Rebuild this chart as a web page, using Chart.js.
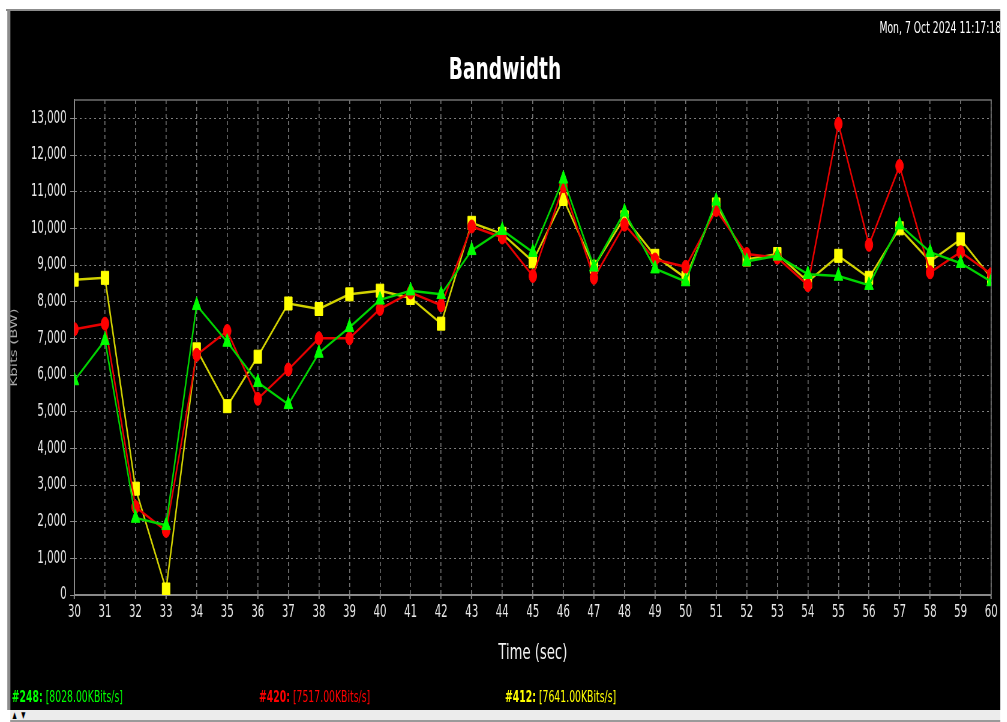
<!DOCTYPE html>
<html>
<head>
<meta charset="utf-8">
<title>Bandwidth</title>
<script src="https://cdn.jsdelivr.net/npm/chart.js@4.4.1/dist/chart.umd.min.js"></script>
<style>
  html, body { margin: 0; padding: 0; background: #fff; width: 1007px; height: 722px; overflow: hidden; }
  /* whole monitor view is laid out wide, then squeezed horizontally */
  #stage { position: absolute; left: 0; top: 0; width: 1678px; height: 722px;
           transform: scaleX(0.6); transform-origin: 0 0; font-family: "DejaVu Sans", sans-serif; }
  #edgeTop { position: absolute; left: 10px; top: 9px; width: 1657px; height: 2px; background: #8c8c8c; }
  #edgeLeft { position: absolute; left: 12px; top: 9px; width: 5px; height: 701px; background: #8c8c8c; }
  #panel { position: absolute; left: 16.7px; top: 11px; width: 1650px; height: 699px; background: #000; overflow: hidden; }
  #panel canvas { position: absolute; left: 0; top: 0; }
  #heading { position: absolute; left: 0; width: 1650px; top: 39px; line-height: 36px; text-align: center;
             color: #fff; font-weight: bold; font-size: 31px; }
  #stamp { position: absolute; right: -2px; top: 8px; line-height: 18px; color: #fff; font-size: 15.5px; white-space: nowrap; }
  .lg { position: absolute; top: 677px; line-height: 18px; font-size: 15.5px; white-space: nowrap; }
  .lg b { font-weight: bold; }
  #bar { position: absolute; left: 16.7px; top: 710px; width: 1650px; height: 10px; background: #ececec;
         border-bottom: 2px solid #9a9a9a; }
  #bar span { position: absolute; left: 4px; top: 1px; font-size: 9px; line-height: 9px; color: #000; letter-spacing: 8px; }
</style>
</head>
<body>
<div id="stage">
  <div id="edgeTop"></div>
  <div id="edgeLeft"></div>
  <div id="panel">
    <canvas id="bw" width="1650" height="699"></canvas>
    <div id="heading">Bandwidth</div>
    <div id="stamp">Mon, 7 Oct 2024 11:17:18</div>
  </div>
  <div id="bar"><span>▲▼</span></div>
</div>
<script>
// seconds on the time axis
const timeLabels = ['30', '31', '32', '33', '34', '35', '36', '37', '38', '39', '40',
                    '41', '42', '43', '44', '45', '46', '47', '48', '49', '50',
                    '51', '52', '53', '54', '55', '56', '57', '58', '59', '60'];
const yTickValues = [0, 1000, 2000, 3000, 4000, 5000, 6000, 7000, 8000, 9000, 10000, 11000, 12000, 13000];

// Kbits per second for each stream
const chan248 = [5850, 6950, 2100, 1900, 7900, 6900, 5800, 5200, 6600, 7300, 8050,
                 8300, 8200, 9400, 9950, 9350, 11350, 8950, 10450, 8900, 8550,
                 10750, 9100, 9250, 8750, 8700, 8450, 10100, 9350, 9050, 8550];
const chan420 = [7250, 7400, 2400, 1750, 6550, 7200, 5350, 6150, 7000, 7000, 7800,
                 8250, 7900, 10050, 9750, 8700, 11150, 8650, 10100, 9150, 8950,
                 10500, 9300, 9200, 8450, 12850, 9550, 11700, 8800, 9350, 8750];
const chan412 = [8600, 8650, 2900, 150, 6700, 5150, 6500, 7950, 7800, 8200, 8300,
                 8100, 7400, 10150, 9850, 9100, 10800, 8950, 10300, 9250, 8650,
                 10650, 9150, 9300, 8550, 9250, 8650, 10000, 9100, 9700, 8650];

const legendIds = ['#248', '#420', '#412'];
const legendRates = [8028.00, 7517.00, 7641.00];
const legendColors = ['#00ff00', '#ff0000', '#ffff00'];
const legendLeft = [3, 415, 825];

legendIds.forEach((id, i) => {
  const el = document.createElement('div');
  el.className = 'lg';
  el.style.left = legendLeft[i] + 'px';
  el.style.color = legendColors[i];
  el.innerHTML = '<b>' + id + ':</b> [' + legendRates[i].toFixed(2) + 'KBits/s]';
  document.getElementById('panel').appendChild(el);
});

// top and right edge of the plot box
const plotFrame = {
  id: 'plotFrame',
  beforeDatasetsDraw(chart) {
    const {ctx, chartArea: a} = chart;
    ctx.save();
    ctx.strokeStyle = '#707070';
    ctx.lineWidth = 1.6;
    ctx.beginPath();
    ctx.moveTo(a.left, a.top);
    ctx.lineTo(a.right, a.top);
    ctx.lineTo(a.right, a.bottom);
    ctx.stroke();
    ctx.restore();
  }
};

Chart.defaults.font.family = "'DejaVu Sans', sans-serif";

const series = (label, data, line, fill, style, radius) => ({
  label, data,
  borderColor: line,
  borderWidth: 2.5,
  pointStyle: style,
  pointRadius: radius,
  pointBackgroundColor: fill,
  pointBorderColor: fill,
  pointBorderWidth: 1,
  tension: 0,
  clip: 0
});

new Chart(document.getElementById('bw'), {
  type: 'line',
  data: {
    labels: timeLabels,
    datasets: [
      series('#248', chan248, '#00d400', '#00ff00', 'triangle', 8.5),
      series('#420', chan420, '#e80000', '#ff0000', 'circle', 6.5),
      series('#412', chan412, '#d2d200', '#ffff00', 'rect', 9.2)
    ]
  },
  options: {
    responsive: false,
    animation: false,
    events: [],
    layout: { padding: { top: 89, right: 15, left: 0, bottom: 0 } },
    plugins: { legend: { display: false }, tooltip: { enabled: false } },
    scales: {
      x: {
        offset: false,
        grid: { color: '#767676', lineWidth: 1.6, tickLength: 4, tickColor: '#8a8a8a', tickWidth: 2, tickBorderDash: [] },
        border: { color: '#8a8a8a', width: 2, dash: [4, 3] },
        ticks: { color: '#e8e8e8', font: { size: 17 }, padding: 3, maxRotation: 0, autoSkip: false },
        title: { display: true, text: 'Time (sec)', color: '#f2f2f2', font: { size: 22 }, padding: { top: 44, bottom: 44 } },
        afterFit(scale) { scale.height = 115; }
      },
      y: {
        min: 0,
        max: 13500,
        afterBuildTicks(scale) { scale.ticks = yTickValues.map(v => ({ value: v })); },
        grid: { color: '#808080', lineWidth: 1, tickLength: 7, tickColor: '#8a8a8a', tickBorderDash: [] },
        border: { color: '#8a8a8a', width: 2, dash: [3, 5] },
        ticks: { color: '#e8e8e8', font: { size: 17 }, padding: 6, callback: v => v.toLocaleString('en-US') },
        title: { display: true, text: 'Kbits (BW)', color: '#a8a8a8', font: { size: 15, lineHeight: 1 }, padding: { top: 0, bottom: 0 } },
        afterFit(scale) { scale.width = 107; }
      }
    }
  },
  plugins: [plotFrame]
});
</script>
</body>
</html>
